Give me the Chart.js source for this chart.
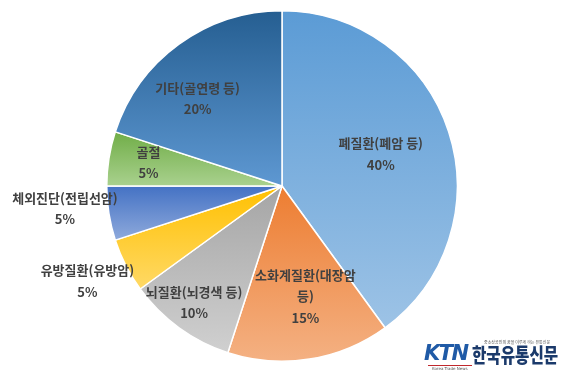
<!DOCTYPE html>
<html>
<head>
<meta charset="utf-8">
<script src="https://cdn.jsdelivr.net/npm/chart.js@4"></script>
<style>
  html, body { margin: 0; padding: 0; background: #fff; }
  #wrap { position: relative; width: 564px; height: 375px; }
  #logo { position: absolute; left: 418px; top: 336px; width: 146px; height: 39px; font-family: "Noto Sans CJK KR", sans-serif; }
  #ktn { position: absolute; left: 6px; top: 5px; font: italic 900 21px "DejaVu Sans", sans-serif; color: #1f5aa6; letter-spacing: -1.5px; }
  #ktnSub { position: absolute; left: 10px; top: 29px; font: 4px "DejaVu Sans", sans-serif; color: #555; border-top: 1px solid #c0282d; padding: 0 4px; }
  #name { position: absolute; left: 54px; top: 4px; font-weight: 900; font-size: 20px; color: #1b3a6b; transform: scaleX(0.78); transform-origin: left top; white-space: nowrap; }
  #slogan { position: absolute; left: 66px; top: 3px; font-size: 4px; color: #555; white-space: nowrap; }
</style>
</head>
<body>
<div id="wrap">
  <canvas id="grafik" width="564" height="375"></canvas>
  <div id="logo">
    <div id="slogan">중소상공인의 꿈을 이루게 하는 유통신문</div>
    <div id="ktn">KTN</div>
    <div id="ktnSub">Korea Trade News</div>
    <div id="name">한국유통신문</div>
  </div>
</div>
<script>
// Data
const kategori = [
    ["폐질환(폐암 등)"],
    ["소화계질환(대장암", "등)"],
    ["뇌질환(뇌경색 등)"],
    ["유방질환(유방암)"],
    ["체외진단(전립선암)"],
    ["골절"],
    ["기타(골연령 등)"]
];
const persen = [40, 15, 10, 5, 5, 5, 20];

// Warna gradasi (atas -> bawah)
const warnaAtas = ["#5b9bd5", "#ed7d31", "#a5a5a5", "#ffc000", "#4472c4", "#70ad47", "#255e91"];
const warnaBawah = ["#9dc3e6", "#f4b183", "#d0d0d0", "#ffd966", "#8faadc", "#a9d18e", "#5e98d2"];

// Posisi label: faktor radius & koreksi sudut (derajat)
const labelRadius = [0.59, 0.64, 0.83, 1.23, 1.24, 0.77, 0.69];
const labelGeser = [0, -3, 1, 1, 3, 1, -8];

function geometri(chart) {
    const a = chart.chartArea;
    return {
        cx: (a.left + a.right) / 2,
        cy: (a.top + a.bottom) / 2,
        r: Math.min(a.right - a.left, a.bottom - a.top) / 2
    };
}

function sudutIrisan(i) {
    const total = persen.reduce((s, v) => s + v, 0);
    let awal = 0;
    for (let k = 0; k < i; k++) awal += persen[k];
    const a0 = -Math.PI / 2 + awal / total * Math.PI * 2;
    const a1 = a0 + persen[i] / total * Math.PI * 2;
    return [a0, a1];
}

function warnaGradasi(context) {
    const chart = context.chart;
    const i = context.dataIndex;
    if (!chart.chartArea) return warnaAtas[i];
    const g = geometri(chart);
    const [a0, a1] = sudutIrisan(i);
    let ymin = g.cy, ymax = g.cy;
    for (let s = 0; s <= 60; s++) {
        const y = g.cy + g.r * Math.sin(a0 + (a1 - a0) * s / 60);
        ymin = Math.min(ymin, y);
        ymax = Math.max(ymax, y);
    }
    const grad = chart.ctx.createLinearGradient(0, ymin, 0, ymax);
    grad.addColorStop(0, warnaAtas[i]);
    grad.addColorStop(1, warnaBawah[i]);
    return grad;
}

const labelPlugin = {
    id: 'labelIrisan',
    afterDatasetsDraw(chart) {
        const ctx = chart.ctx;
        const g = geometri(chart);
        ctx.save();
        ctx.fillStyle = '#404040';
        ctx.textAlign = 'center';
        ctx.textBaseline = 'middle';
        ctx.font = '600 13px "Noto Sans CJK KR", sans-serif';
        persen.forEach((v, i) => {
            const [a0, a1] = sudutIrisan(i);
            const a = (a0 + a1) / 2 + labelGeser[i] * Math.PI / 180;
            const x = g.cx + g.r * labelRadius[i] * Math.cos(a);
            const y = g.cy + g.r * labelRadius[i] * Math.sin(a);
            const baris = kategori[i].concat([v + "%"]);
            const tinggi = 21.5;
            const y0 = y - (baris.length - 1) * tinggi / 2;
            baris.forEach((t, k) => ctx.fillText(t, x, y0 + k * tinggi));
        });
        ctx.restore();
    }
};

new Chart(document.getElementById('grafik').getContext('2d'), {
    type: 'pie',
    data: {
        labels: kategori.map(b => b.join(" ")),
        datasets: [{
            data: persen,
            backgroundColor: warnaGradasi,
            borderColor: '#ffffff',
            borderWidth: 1.5
        }]
    },
    options: {
        responsive: false,
        animation: false,
        layout: { padding: { top: 10, bottom: 13, left: 0, right: 0 } },
        plugins: {
            legend: { display: false },
            tooltip: { enabled: false }
        }
    },
    plugins: [labelPlugin]
});
</script>
</body>
</html>
